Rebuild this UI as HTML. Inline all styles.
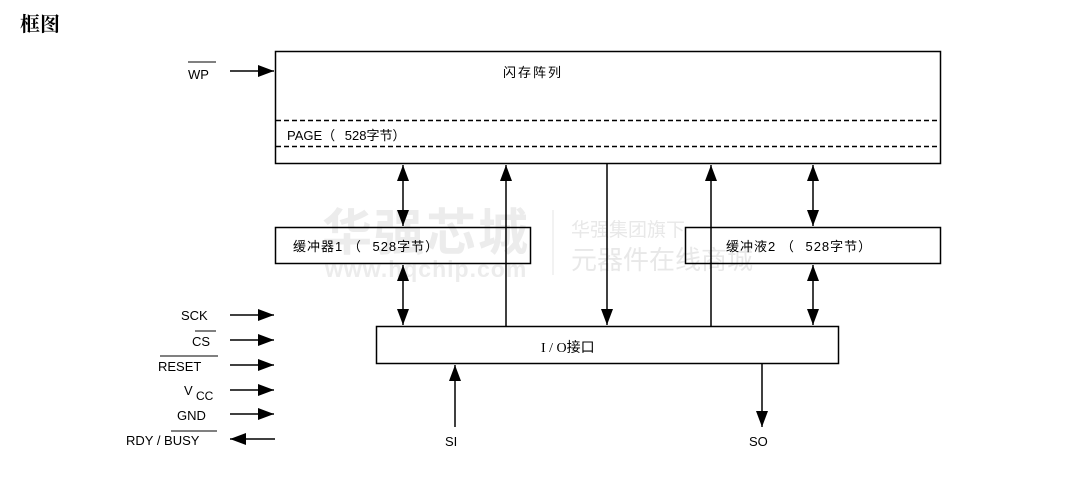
<!DOCTYPE html>
<html><head><meta charset="utf-8"><style>
html,body{margin:0;padding:0;background:#fff;}
svg{display:block;}
text{font-family:"Liberation Sans","Noto Sans CJK SC",sans-serif;font-size:13px;fill:#000;}
</style></head><body>
<svg width="1081" height="490" viewBox="0 0 1081 490" xmlns="http://www.w3.org/2000/svg">
<defs>
<marker id="b" viewBox="0 0 16 12" refX="16" refY="6" markerWidth="16" markerHeight="12" markerUnits="userSpaceOnUse" orient="auto-start-reverse">
<path d="M0,0 L16,6 L0,12 Z" fill="#000"/></marker>
</defs>
<text x="20" y="31" style="font-family:'Noto Serif CJK SC',serif;font-size:20px;font-weight:bold">框图</text>
<!-- watermark -->
<text x="322" y="250" style="font-size:50px;font-weight:bold;fill:#ececec;letter-spacing:2px">华强芯城</text>
<text x="325" y="277" style="font-size:23px;font-weight:bold;fill:#ececec;letter-spacing:1px">www.hqchip.com</text>
<line x1="553" y1="210" x2="553" y2="275" stroke="#e6e6e6" stroke-width="1"/>
<text x="571" y="236" style="font-size:19px;fill:#e8e8e8">华强集团旗下</text>
<text x="571" y="269" style="font-size:26px;fill:#e8e8e8">元器件在线商城</text>

<g stroke="#000" stroke-width="1.5" fill="none">
<rect x="275.5" y="51.5" width="665" height="112"/>
<line x1="276" y1="120.5" x2="940" y2="120.5" stroke-dasharray="5,3"/>
<line x1="276" y1="146.5" x2="940" y2="146.5" stroke-dasharray="5,3"/>
<rect x="275.5" y="227.5" width="255" height="36"/>
<rect x="685.5" y="227.5" width="255" height="36"/>
<rect x="376.5" y="326.5" width="462" height="37"/>

<line x1="230" y1="71" x2="274" y2="71" marker-end="url(#b)"/>
<line x1="403" y1="165" x2="403" y2="226" marker-start="url(#b)" marker-end="url(#b)"/>
<line x1="403" y1="265" x2="403" y2="325" marker-start="url(#b)" marker-end="url(#b)"/>
<line x1="506" y1="326" x2="506" y2="165" marker-end="url(#b)"/>
<line x1="607" y1="164" x2="607" y2="325" marker-end="url(#b)"/>
<line x1="711" y1="326" x2="711" y2="165" marker-end="url(#b)"/>
<line x1="813" y1="165" x2="813" y2="226" marker-start="url(#b)" marker-end="url(#b)"/>
<line x1="813" y1="265" x2="813" y2="325" marker-start="url(#b)" marker-end="url(#b)"/>
<line x1="455" y1="427" x2="455" y2="365" marker-end="url(#b)"/>
<line x1="762" y1="364" x2="762" y2="427" marker-end="url(#b)"/>

<line x1="230" y1="315" x2="274" y2="315" marker-end="url(#b)"/>
<line x1="230" y1="340" x2="274" y2="340" marker-end="url(#b)"/>
<line x1="230" y1="365" x2="274" y2="365" marker-end="url(#b)"/>
<line x1="230" y1="390" x2="274" y2="390" marker-end="url(#b)"/>
<line x1="230" y1="414" x2="274" y2="414" marker-end="url(#b)"/>
<line x1="275" y1="439" x2="230" y2="439" marker-end="url(#b)"/>

<line x1="188" y1="62" x2="216" y2="62" stroke-width="1"/>
<line x1="195" y1="331" x2="216" y2="331" stroke-width="1"/>
<line x1="160" y1="356" x2="218" y2="356" stroke-width="1"/>
<line x1="171" y1="431" x2="217" y2="431" stroke-width="1"/>
</g>

<text x="188" y="79">WP</text>
<text x="503" y="77" style="letter-spacing:2px">闪存阵列</text>
<text x="287" y="140">PAGE（  <tspan dx="6">528字节）</tspan></text>
<text x="293" y="251" style="letter-spacing:1px">缓冲器1 （ <tspan dx="6">528字节）</tspan></text>
<text x="726" y="251" style="letter-spacing:1px">缓冲液2 （ <tspan dx="6">528字节）</tspan></text>
<text x="541" y="352" style="font-family:'Liberation Serif','Noto Sans CJK SC',serif;font-size:14px">I / O接口</text>
<text x="445" y="446">SI</text>
<text x="749" y="446">SO</text>
<text x="181" y="320">SCK</text>
<text x="192" y="346">CS</text>
<text x="158" y="371">RESET</text>
<text x="184" y="395">V</text><text x="196" y="400" style="font-size:12px">CC</text>
<text x="177" y="420">GND</text>
<text x="126" y="445">RDY / BUSY</text>
</svg>
</body></html>
